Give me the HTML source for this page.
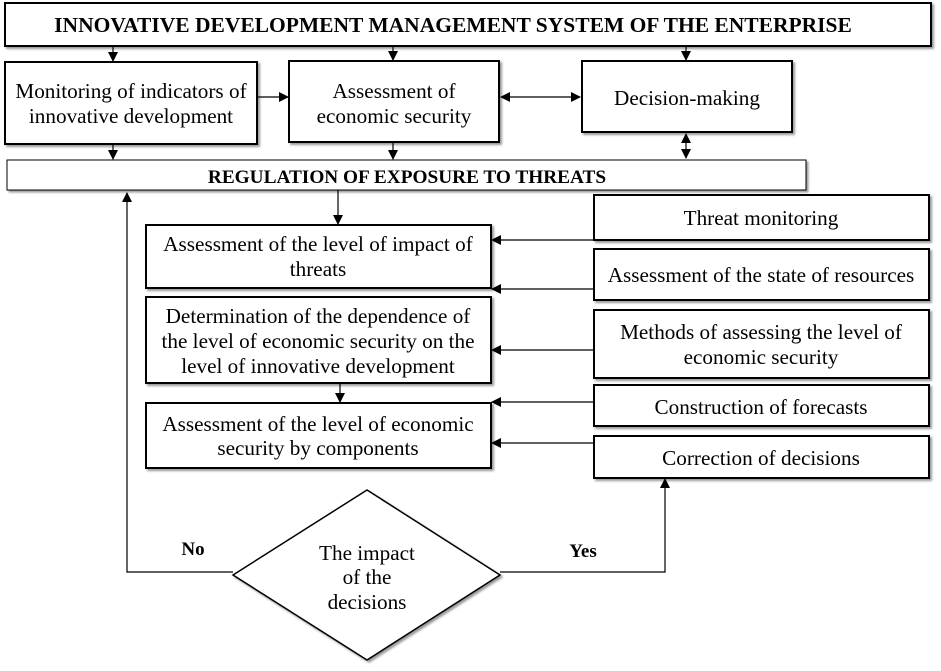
<!DOCTYPE html>
<html><head><style>body{margin:0;background:#fff}</style></head><body>
<svg width="941" height="666" xmlns="http://www.w3.org/2000/svg" font-family="Liberation Serif, serif" font-size="21.2" text-anchor="middle">
<defs><marker id="a" markerWidth="10" markerHeight="10" refX="9" refY="5" orient="auto" markerUnits="userSpaceOnUse"><path d="M0,0 L10,5 L0,10 z" fill="#000"/></marker>
<marker id="s" markerWidth="10" markerHeight="10" refX="1" refY="5" orient="auto" markerUnits="userSpaceOnUse"><path d="M10,0 L0,5 L10,10 z" fill="#000"/></marker>
<filter id="sh"><feDropShadow dx="2" dy="2" stdDeviation="1" flood-opacity="0.4"/></filter></defs>
<g fill="#fff" stroke="#000" stroke-width="2" filter="url(#sh)">
<rect x="5" y="3" width="926" height="43"/>
<rect x="5" y="62" width="252" height="82"/>
<rect x="289" y="61" width="210" height="81"/>
<rect x="582" y="61" width="210" height="71"/>
<rect x="7" y="160" width="799" height="30" stroke-width="1"/>
<rect x="146" y="225" width="345" height="63"/>
<rect x="146" y="297" width="345" height="86"/>
<rect x="146" y="403" width="345" height="65"/>
<rect x="594" y="195" width="335" height="45"/>
<rect x="594" y="249" width="335" height="51"/>
<rect x="594" y="310" width="335" height="68"/>
<rect x="594" y="385" width="335" height="41"/>
<rect x="594" y="436" width="335" height="42"/>
<polygon points="367,490 500,575 367,660 233,575" stroke-width="1.5"/>
</g>
<g stroke="#000" stroke-width="1.2" fill="none">
<line x1="113" y1="46" x2="113" y2="61" marker-end="url(#a)"/>
<line x1="393" y1="46" x2="393" y2="60" marker-end="url(#a)"/>
<line x1="686" y1="46" x2="686" y2="60" marker-end="url(#a)"/>
<line x1="257" y1="97" x2="288" y2="97" marker-end="url(#a)"/>
<line x1="501" y1="97" x2="580" y2="97" marker-end="url(#a)" marker-start="url(#s)"/>
<line x1="113" y1="144" x2="113" y2="159" marker-end="url(#a)"/>
<line x1="393" y1="142" x2="393" y2="159" marker-end="url(#a)"/>
<line x1="686" y1="134" x2="686" y2="158" marker-end="url(#a)" marker-start="url(#s)"/>
<line x1="338" y1="190" x2="338" y2="224" marker-end="url(#a)"/>
<line x1="340" y1="384" x2="340" y2="402" marker-end="url(#a)"/>
<line x1="594" y1="240" x2="492" y2="240" marker-end="url(#a)"/>
<line x1="594" y1="289" x2="492" y2="289" marker-end="url(#a)"/>
<line x1="594" y1="350" x2="492" y2="350" marker-end="url(#a)"/>
<line x1="594" y1="402" x2="492" y2="402" marker-end="url(#a)"/>
<line x1="594" y1="443" x2="492" y2="443" marker-end="url(#a)"/>
<polyline points="233,572 127,572 127,193" marker-end="url(#a)"/>
<polyline points="500,572 665,572 665,479" marker-end="url(#a)"/>
</g>
<g fill="#000">
<text x="453" y="32" font-weight="bold" font-size="21.5">INNOVATIVE DEVELOPMENT MANAGEMENT SYSTEM OF THE ENTERPRISE</text>
<text x="131" y="98">Monitoring of indicators of</text><text x="131" y="123">innovative development</text>
<text x="394" y="98">Assessment of</text><text x="394" y="123">economic security</text>
<text x="687" y="105">Decision-making</text>
<text x="407" y="183" font-weight="bold" font-size="19.3">REGULATION OF EXPOSURE TO THREATS</text>
<text x="318" y="251">Assessment of the level of impact of</text><text x="318" y="276">threats</text>
<text x="318" y="323">Determination of the dependence of</text><text x="318" y="348">the level of economic security on the</text><text x="318" y="373">level of innovative development</text>
<text x="318" y="431">Assessment of the level of economic</text><text x="318" y="455">security by components</text>
<text x="761" y="225">Threat monitoring</text>
<text x="761" y="282">Assessment of the state of resources</text>
<text x="761" y="339">Methods of assessing the level of</text><text x="761" y="364">economic security</text>
<text x="761" y="414">Construction of forecasts</text>
<text x="761" y="465">Correction of decisions</text>
<text x="367" y="560">The impact</text><text x="367" y="584">of the</text><text x="367" y="609">decisions</text>
<text x="193" y="555" font-weight="bold" font-size="19">No</text>
<text x="583" y="557" font-weight="bold" font-size="19">Yes</text>
</g>
</svg>
</body></html>
